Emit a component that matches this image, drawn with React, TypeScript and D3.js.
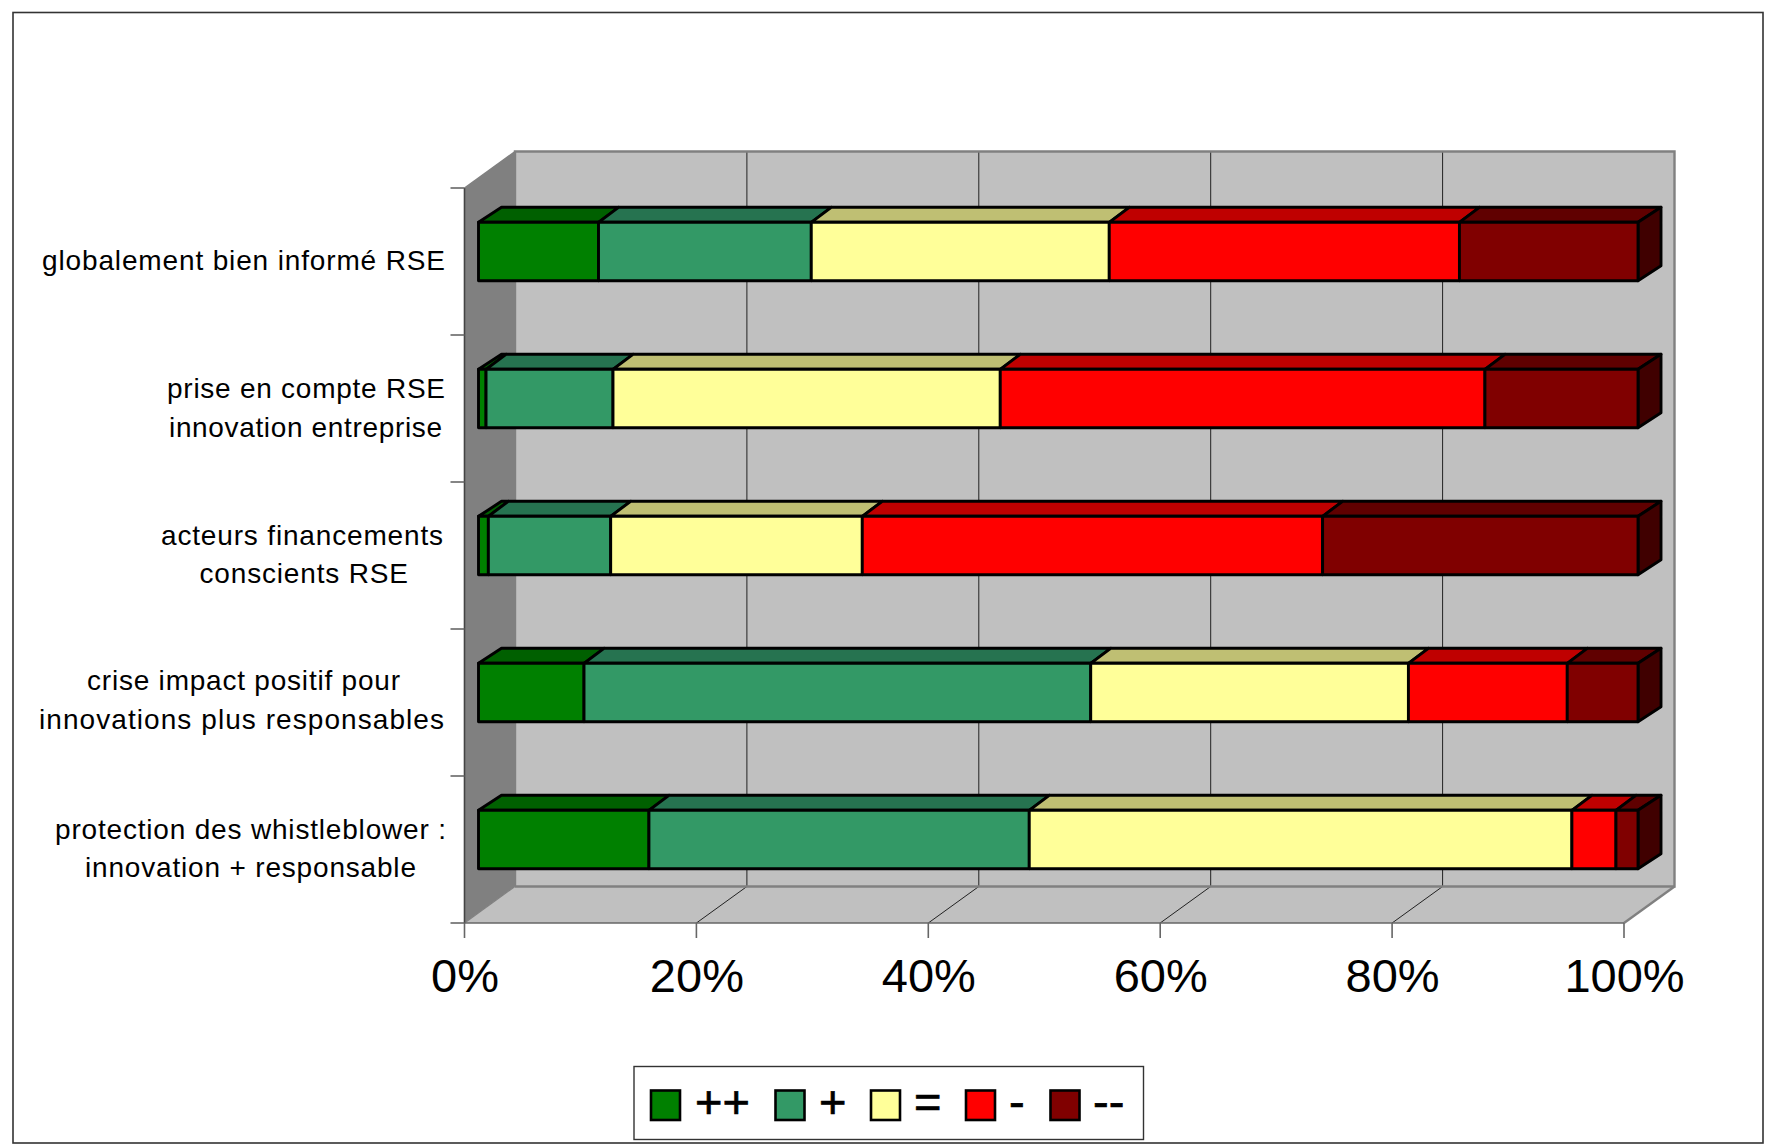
import React from "react";
import * as d3 from "d3";

// ---- data ----
const categories = [
  "globalement bien informé RSE",
  "prise en compte RSE innovation entreprise",
  "acteurs financements conscients RSE",
  "crise impact positif pour innovations plus responsables",
  "protection des whistleblower : innovation + responsable",
];
const seriesNames = ["++", "+", "=", "-", "--"];
const plusPlus = [10.35, 0.65, 0.85, 9.1, 14.7];
const plus = [18.35, 10.95, 10.55, 43.7, 32.8];
const equal = [25.7, 33.4, 21.7, 27.4, 46.8];
const minus = [30.2, 41.8, 39.7, 13.7, 3.8];
const minusMinus = [15.4, 13.2, 27.2, 6.1, 1.9];
const seriesValues = [plusPlus, plus, equal, minus, minusMinus];
const xTicks = [0, 20, 40, 60, 80, 100];
const categoryLines = [
  ["globalement bien informé RSE"],
  ["prise en compte RSE", "innovation entreprise"],
  ["acteurs financements", "conscients RSE"],
  ["crise impact positif pour", "innovations plus responsables"],
  ["protection des whistleblower :", "innovation + responsable"],
];

// ---- styles and layout ----
const W = 1767, H = 1146;
const frontColors = ["#008000", "#339966", "#FFFF99", "#FF0000", "#800000"];
const topColors = ["#006000", "#267350", "#BFBF73", "#BF0000", "#600000"];
const sideColor = "#400000";
const x0 = 464.5, x1 = 1624, yTop = 188, yBottom = 923;
const depthX = 50.5, depthY = 36.5;
const barDepthX = 23, seamDepthX = 20, barDepthY = 15;
const barOffX = 14, barOffY = 10;
const labelExtents = [
  [[42, 445]],
  [[167, 445], [169, 442]],
  [[161, 443], [199.5, 408]],
  [[87, 400], [39, 444]],
  [[55, 446], [85, 416]],
];
const labelBaselines = [
  [270],
  [398, 437],
  [545, 583],
  [690, 729],
  [839, 877],
];
const legendSwatches = [
  [651, 695],
  [775.5, 819],
  [871, 914],
  [966, 1009],
  [1050.5, 1093],
];
const sans = "'Liberation Sans', Arial, sans-serif";
const gray = "#808080";

export default function App() {
  const x = d3.scaleLinear().domain([0, 100]).range([x0, x1]);
  const y = d3
    .scaleBand<string>()
    .domain(categories)
    .range([yTop - barOffY, yBottom - barOffY])
    .paddingInner(0.603)
    .paddingOuter(0.3015);
  const poly = (pts: number[][]) => d3.line()(pts as [number, number][]) + "Z";

  return (
    <svg
      width={W}
      height={H}
      viewBox={`0 0 ${W} ${H}`}
      style={{ position: "absolute", left: 0, top: 0, background: "#fff" }}
    >
      <rect x={13} y={12.5} width={1750} height={1130.5} fill="#fff" stroke="#333" strokeWidth={1.6} />

      {/* walls */}
      <path d={poly([[x0, yTop], [x0 + depthX, yTop - depthY], [x0 + depthX, yBottom - depthY], [x0, yBottom]])} fill={gray} />
      <path d={poly([[x0 + depthX, yTop - depthY], [x1 + depthX, yTop - depthY], [x1 + depthX, yBottom - depthY], [x0 + depthX, yBottom - depthY]])} fill="#C0C0C0" />
      <path d={poly([[x0, yBottom], [x0 + depthX, yBottom - depthY], [x1 + depthX, yBottom - depthY], [x1, yBottom]])} fill="#C0C0C0" />

      {/* grid */}
      {xTicks.slice(1, -1).map((t) => (
        <g key={t} stroke="#222" strokeWidth={1} fill="none">
          <line x1={x(t) + depthX} x2={x(t) + depthX} y1={yTop - depthY} y2={yBottom - depthY} />
          <line x1={x(t) + depthX} x2={x(t)} y1={yBottom - depthY} y2={yBottom} />
        </g>
      ))}

      {/* wall edges */}
      <path
        d={`M${x0 + depthX},${yBottom - depthY}V${yTop - depthY}H${x1 + depthX}V${yBottom - depthY}H${x0 + depthX}`}
        fill="none"
        stroke={gray}
        strokeWidth={2.4}
      />
      <path d={`M${x0},${yTop}L${x0 + depthX},${yTop - depthY}`} stroke={gray} strokeWidth={1.5} fill="none" />
      <path d={`M${x1},${yBottom}L${x1 + depthX},${yBottom - depthY}`} stroke={gray} strokeWidth={2.4} fill="none" />
      <path d={`M${x0},${yBottom}L${x0 + depthX},${yBottom - depthY}`} stroke={gray} strokeWidth={1.2} fill="none" />
      <line x1={x0} x2={x0} y1={yTop} y2={yBottom} stroke="#444" strokeWidth={1.6} />
      <line x1={x0} x2={x1} y1={yBottom} y2={yBottom} stroke="#666" strokeWidth={1.6} />

      {/* axis ticks */}
      {xTicks.map((t) => (
        <line key={t} x1={x(t)} x2={x(t)} y1={yBottom} y2={yBottom + 15} stroke="#666" strokeWidth={1.6} />
      ))}
      {d3.range(categories.length + 1).map((i) => {
        const yy = yTop + ((yBottom - yTop) * i) / categories.length;
        return <line key={i} x1={x0 - 14} x2={x0} y1={yy} y2={yy} stroke="#666" strokeWidth={1.6} />;
      })}

      {/* bars */}
      {categories.map((c, ci) => {
        const top = y(c)!;
        const bottom = top + y.bandwidth();
        let acc = 0;
        const segs = seriesValues.map((s, si) => {
          const a = acc;
          acc += s[ci];
          return { si, a, b: acc };
        });
        const end = x(acc) + barOffX;
        return (
          <g key={c} stroke="#000" strokeWidth={2.9} strokeLinejoin="round">
            {segs.map(({ si, a, b }) => {
              const l = x(a) + barOffX, r = x(b) + barOffX;
              const ld = si === 0 ? barDepthX : seamDepthX;
              const rd = si === segs.length - 1 ? barDepthX : seamDepthX;
              return (
                <path
                  key={si}
                  d={poly([[l, top], [l + ld, top - barDepthY], [r + rd, top - barDepthY], [r, top]])}
                  fill={topColors[si]}
                />
              );
            })}
            <path
              d={poly([[end, top], [end + barDepthX, top - barDepthY], [end + barDepthX, bottom - barDepthY], [end, bottom]])}
              fill={sideColor}
            />
            {segs.map(({ si, a, b }) => (
              <rect
                key={si}
                x={x(a) + barOffX}
                y={top}
                width={x(b) - x(a)}
                height={y.bandwidth()}
                fill={frontColors[si]}
              />
            ))}
          </g>
        );
      })}

      {/* x labels */}
      {xTicks.map((t) => (
        <text key={t} x={x(t) + 0.5} y={991.5} textAnchor="middle" fontFamily={sans} fontSize={47} fill="#000">
          {t}%
        </text>
      ))}

      {/* category labels */}
      {categoryLines.map((lines, i) =>
        lines.map((line, j) => {
          const [a, b] = labelExtents[i][j];
          return (
            <text
              key={line}
              x={a}
              y={labelBaselines[i][j]}
              fontFamily={sans}
              fontSize={28}
              textLength={b - a}
              lengthAdjust="spacing"
              fill="#000"
            >
              {line}
            </text>
          );
        })
      )}

      {/* legend */}
      <rect x={634} y={1066.5} width={509.5} height={73} fill="#fff" stroke="#333" strokeWidth={1.4} />
      {seriesNames.map((name, i) => (
        <g key={name}>
          <rect
            x={legendSwatches[i][0]}
            y={1090.5}
            width={29}
            height={29.5}
            fill={frontColors[i]}
            stroke="#000"
            strokeWidth={2.6}
          />
          <text
            x={legendSwatches[i][1]}
            y={1118}
            fontFamily={sans}
            fontSize={47}
            stroke="#000"
            strokeWidth={0.7}
            fill="#000"
          >
            {name}
          </text>
        </g>
      ))}
    </svg>
  );
}
